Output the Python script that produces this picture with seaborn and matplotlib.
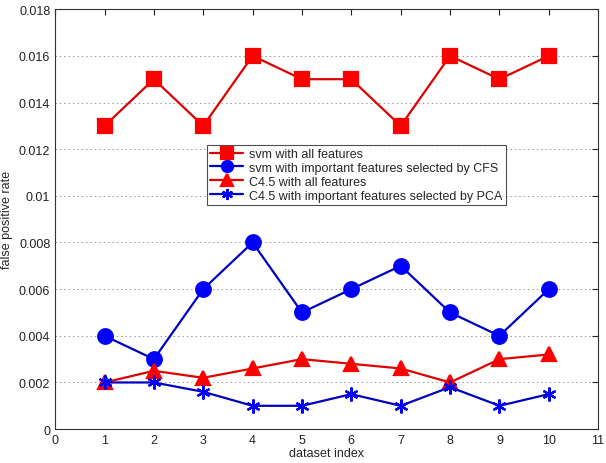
import numpy as np
import pandas as pd
import matplotlib
matplotlib.use("Agg")
import matplotlib.pyplot as plt
from matplotlib.ticker import FuncFormatter
import seaborn as sns

#########################################################
# Data
#########################################################

dataset_index = [1, 2, 3, 4, 5, 6, 7, 8, 9, 10]

svm_all = [0.013, 0.015, 0.013, 0.016, 0.015, 0.015, 0.013, 0.016, 0.015, 0.016]
svm_cfs = [0.004, 0.003, 0.006, 0.008, 0.005, 0.006, 0.007, 0.005, 0.004, 0.006]
c45_all = [0.002, 0.0025, 0.0022, 0.0026, 0.003, 0.0028, 0.0026, 0.002, 0.003, 0.0032]
c45_pca = [0.002, 0.002, 0.0016, 0.001, 0.001, 0.0015, 0.001, 0.0018, 0.001, 0.0015]

labels = [
    "svm with all features",
    "svm with important features selected by CFS",
    "C4.5 with all features",
    "C4.5 with important features selected by PCA",
]

x_ticks = list(range(0, 12))
y_ticks = [0, 0.002, 0.004, 0.006, 0.008, 0.01, 0.012, 0.014, 0.016, 0.018]

#########################################################
# Style
#########################################################

sns.set_style("white")
plt.rcParams["font.family"] = ["Liberation Sans", "DejaVu Sans"]

fig = plt.figure(figsize=(6.06, 4.64), dpi=100)
ax = fig.add_axes([0.091, 0.073, 0.896, 0.905])

styles = [
    (svm_all, "s", 10, "#ff0000", "#e00000"),
    (svm_cfs, "o", 10.5, "#0000ff", "#0000c0"),
    (c45_all, "^", 10, "#ff0000", "#e00000"),
    (c45_pca, (6, 2, 0), 10, "#0000ff", "#0000c0"),
]

for (vals, mk, ms, mcol, lcol), lab in zip(styles, labels):
    sns.lineplot(
        x=dataset_index, y=vals, ax=ax, label=lab,
        color=lcol, linewidth=1.6, marker=mk, markersize=ms,
        markerfacecolor=mcol, markeredgecolor=mcol, markeredgewidth=1.6,
    )

#########################################################
# Axes
#########################################################

ax.set_xlim(0, 11)
ax.set_ylim(0, 0.018)
ax.set_xticks(x_ticks)
ax.set_yticks(y_ticks)
ax.yaxis.set_major_formatter(FuncFormatter(lambda v, p: "%g" % round(v, 4)))
ax.tick_params(direction="in", length=4, width=0.8, labelsize=9,
               top=True, right=True, colors="#222222")
for sp in ax.spines.values():
    sp.set_color("#333333")
    sp.set_linewidth(0.8)

ax.yaxis.grid(True, linestyle=(0, (1.5, 3)), color="#999999", linewidth=0.7)
ax.xaxis.grid(False)

ax.set_xlabel("dataset index", fontsize=9, labelpad=1)
ax.set_ylabel("false positive rate", fontsize=9, labelpad=4)

leg = ax.legend(loc="upper left", bbox_to_anchor=(0.28, 0.677), fontsize=9,
                frameon=True, fancybox=False, edgecolor="#222222",
                borderpad=0.25, labelspacing=0.15, handlelength=2.6,
                handletextpad=0.5, borderaxespad=0)
leg.get_frame().set_linewidth(0.8)
for h in leg.legend_handles:
    h.set_markersize(8)

fig.savefig("out.png", dpi=100)
